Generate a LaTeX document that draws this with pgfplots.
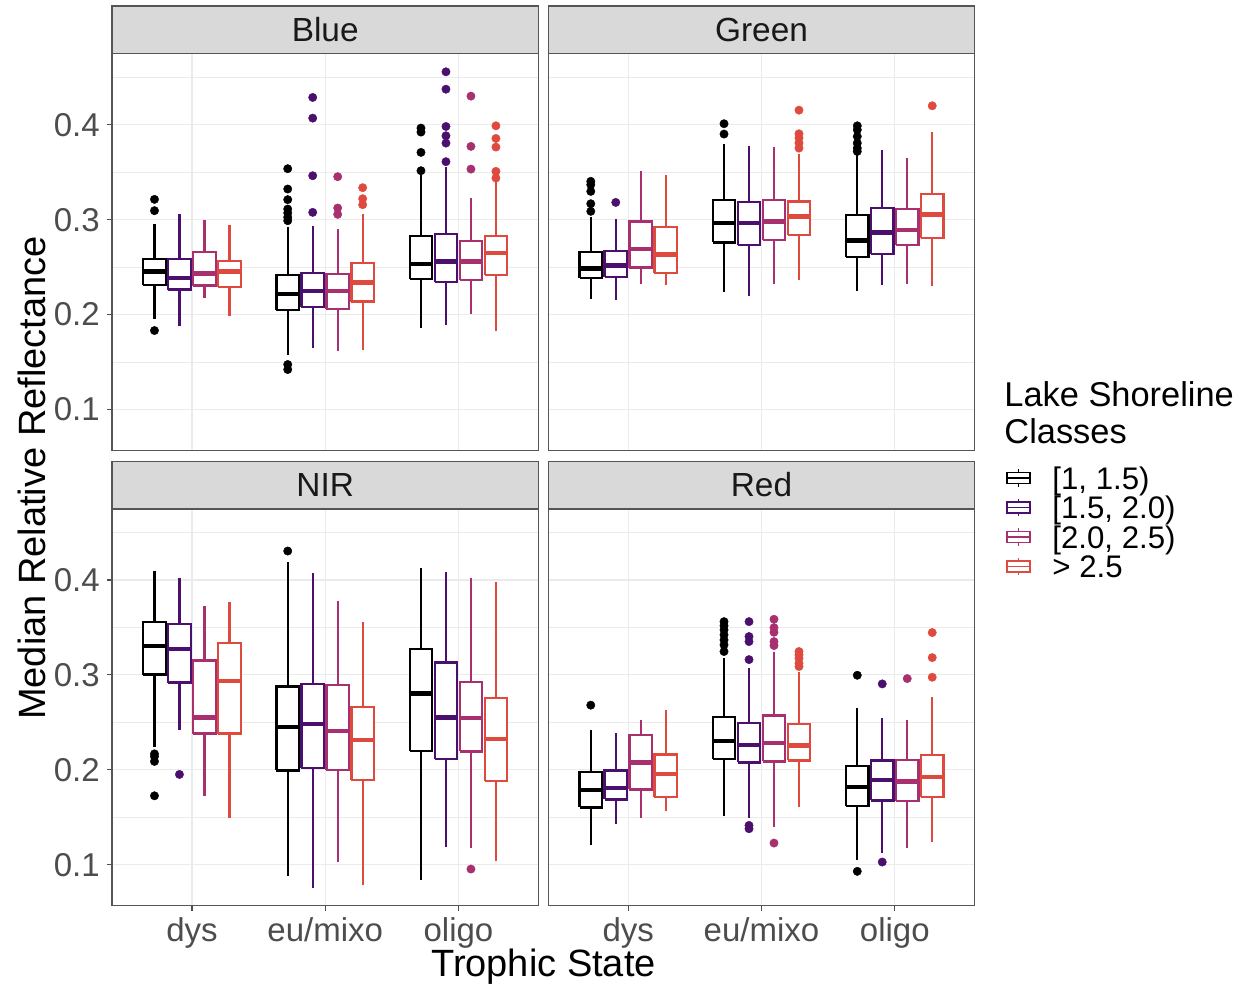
\documentclass[border=0pt]{standalone}
\usepackage{fontspec}
\setmainfont{Liberation Sans}
\usepackage{pgfplots}
\pgfplotsset{compat=1.18}

\definecolor{cA}{HTML}{000000}
\definecolor{cB}{HTML}{4B0F6E}
\definecolor{cC}{HTML}{A8306E}
\definecolor{cD}{HTML}{DE4A3D}
\definecolor{stripfill}{HTML}{D9D9D9}
\definecolor{bordergray}{HTML}{555555}
\definecolor{gridgray}{HTML}{EBEBEB}
\definecolor{ticklab}{HTML}{4D4D4D}

\newcommand{\ticksize}{\fontsize{16.5}{18}\selectfont}
\newcommand{\legsize}{\fontsize{15.6}{18}\selectfont}
\newcommand{\stripsize}{\fontsize{16.7}{18}\selectfont}
\newcommand{\titlesize}{\fontsize{19}{22}\selectfont}
\newcommand{\legtitlesize}{\fontsize{17.2}{20}\selectfont}

% position, colour, lower whisker, Q1, median, Q3, upper whisker, outliers (x ignored)
\newcommand{\bx}[8]{%
  \pgfmathsetmacro\xl{#1-0.0845}%
  \pgfmathsetmacro\xr{#1+0.0845}%
  \edef\doit{%
    \noexpand\addplot[color=#2, line width=1.15pt] coordinates {(#1,#3) (#1,#4)};
    \noexpand\addplot[color=#2, line width=1.15pt] coordinates {(#1,#6) (#1,#7)};
    \noexpand\addplot[color=#2, line width=1.15pt, fill=white, line join=miter]
      coordinates {(\xl,#4) (\xr,#4) (\xr,#6) (\xl,#6) (\xl,#4)};
    \noexpand\addplot[color=#2, line width=2.2pt] coordinates {(\xl,#5) (\xr,#5)};
  }\doit
  \if\relax\detokenize{#8}\relax\else
  \addplot[only marks, color=#2, mark=*, mark size=2.1pt,
    mark options={fill=#2, draw=#2, line width=0.2pt},
    x filter/.expression={#1}] coordinates {#8};
  \fi}

\pgfplotsset{
  every axis title shift=0pt,
  panel/.style={
    scale only axis, width=213.2pt, height=198.3pt,
    xmin=0.4, xmax=3.6, ymin=0.0568, ymax=0.4747,
    xtick={1,2,3}, ytick={0.1,0.2,0.3,0.4}, minor ytick={0.15,0.25,0.35,0.45},
    grid=both,
    major grid style={gridgray, line width=0.6pt},
    minor grid style={gridgray, line width=0.3pt},
    axis line style={bordergray, line width=0.6pt},
    tick align=outside, major tick length=2.6pt, minor tick length=0pt,
    tick style={ticklab, line width=0.6pt},
    tick pos=left,
    ticklabel style={font=\ticksize, text=ticklab},
    /pgf/number format/assume math mode=true,
    yticklabel style={/pgf/number format/.cd, fixed, precision=1},
    title style={at={(0.5,1)}, anchor=south, fill=stripfill, draw=bordergray,
      line width=0.6pt, minimum width=213.2pt, minimum height=23.6pt,
      inner sep=0pt, font=\stripsize, text=black!90},
  },
}

\begin{document}
\begin{tikzpicture}
\path (0,0) rectangle (623pt,494.5pt);

% ---------------- Blue ----------------
\begin{axis}[panel, at={(56pt,269.25pt)}, anchor=south west, title={Blue},
  xmajorticks=false, xticklabels={}]
\bx{0.71875}{cA}{0.1958}{0.2312}{0.2456}{0.2589}{0.2954}{(0,0.3214) (0,0.3095) (0,0.1832)}
\bx{0.90625}{cB}{0.1877}{0.2263}{0.2386}{0.2582}{0.3056}{}
\bx{1.09375}{cC}{0.2172}{0.2305}{0.2432}{0.2663}{0.2996}{}
\bx{1.28125}{cD}{0.1989}{0.2291}{0.2456}{0.2568}{0.2940}{}
\bx{1.71875}{cA}{0.1579}{0.2046}{0.2218}{0.2414}{0.2919}{(0,0.3537) (0,0.3323) (0,0.3211) (0,0.3112) (0,0.3070) (0,0.3025) (0,0.2989) (0,0.1474) (0,0.1421)}
\bx{1.90625}{cB}{0.1649}{0.2081}{0.2249}{0.2439}{0.2937}{(0,0.4288) (0,0.4070) (0,0.3463) (0,0.3077)}
\bx{2.09375}{cC}{0.1614}{0.2056}{0.2249}{0.2425}{0.2905}{(0,0.3453) (0,0.3123) (0,0.3056)}
\bx{2.28125}{cD}{0.1632}{0.2137}{0.2340}{0.2540}{0.3063}{(0,0.3337) (0,0.3221) (0,0.3158)}
\bx{2.71875}{cA}{0.1860}{0.2375}{0.2533}{0.2825}{0.3470}{(0,0.3965) (0,0.3923) (0,0.3709) (0,0.3516)}
\bx{2.90625}{cB}{0.1895}{0.2344}{0.2561}{0.2849}{0.3554}{(0,0.4558) (0,0.4375) (0,0.3982) (0,0.3884) (0,0.3807) (0,0.3611)}
\bx{3.09375}{cC}{0.2011}{0.2361}{0.2561}{0.2772}{0.3232}{(0,0.4302) (0,0.3772) (0,0.3533)}
\bx{3.28125}{cD}{0.1825}{0.2418}{0.2646}{0.2825}{0.3404}{(0,0.3989) (0,0.3856) (0,0.3765) (0,0.3509) (0,0.3439)}
\end{axis}

% ---------------- Green ----------------
\begin{axis}[panel, at={(274.15pt,269.25pt)}, anchor=south west, title={Green},
  xmajorticks=false, xticklabels={}, ymajorticks=false, yticklabels={}]
\bx{0.71875}{cA}{0.2165}{0.2382}{0.2484}{0.2660}{0.3025}{(0,0.3404) (0,0.3368) (0,0.3298) (0,0.3168) (0,0.3088)}
\bx{0.90625}{cB}{0.2158}{0.2396}{0.2519}{0.2670}{0.3007}{(0,0.3182)}
\bx{1.09375}{cC}{0.2319}{0.2495}{0.2691}{0.2982}{0.3509}{}
\bx{1.28125}{cD}{0.2312}{0.2439}{0.2632}{0.2926}{0.3474}{}
\bx{1.71875}{cA}{0.2239}{0.2761}{0.2965}{0.3211}{0.3800}{(0,0.4011) (0,0.3902)}
\bx{1.90625}{cB}{0.2200}{0.2733}{0.2968}{0.3189}{0.3772}{}
\bx{2.09375}{cC}{0.2319}{0.2789}{0.2982}{0.3211}{0.3761}{}
\bx{2.28125}{cD}{0.2368}{0.2842}{0.3035}{0.3193}{0.3695}{(0,0.4154) (0,0.3905) (0,0.3860) (0,0.3807) (0,0.3754)}
\bx{2.71875}{cA}{0.2246}{0.2607}{0.2779}{0.3046}{0.3702}{(0,0.3989) (0,0.3947) (0,0.3877) (0,0.3807) (0,0.3754) (0,0.3719)}
\bx{2.90625}{cB}{0.2309}{0.2642}{0.2863}{0.3126}{0.3737}{}
\bx{3.09375}{cC}{0.2323}{0.2733}{0.2891}{0.3116}{0.3649}{}
\bx{3.28125}{cD}{0.2305}{0.2804}{0.3056}{0.3274}{0.3919}{(0,0.4200)}
\end{axis}

% ---------------- NIR ----------------
\begin{axis}[panel, at={(56pt,41.65pt)}, anchor=south west, title={NIR},
  xticklabels={dys,eu/mixo,oligo}]
\bx{0.71875}{cA}{0.2239}{0.3004}{0.3302}{0.3554}{0.4098}{(0,0.2168) (0,0.2140) (0,0.2088) (0,0.1726)}
\bx{0.90625}{cB}{0.2421}{0.2919}{0.3270}{0.3537}{0.4025}{(0,0.1951)}
\bx{1.09375}{cC}{0.1719}{0.2382}{0.2551}{0.3151}{0.3726}{}
\bx{1.28125}{cD}{0.1491}{0.2382}{0.2937}{0.3337}{0.3768}{}
\bx{1.71875}{cA}{0.0884}{0.1993}{0.2453}{0.2877}{0.4193}{(0,0.4305)}
\bx{1.90625}{cB}{0.0754}{0.2018}{0.2484}{0.2905}{0.4077}{}
\bx{2.09375}{cC}{0.1025}{0.1996}{0.2407}{0.2895}{0.3779}{}
\bx{2.28125}{cD}{0.0782}{0.1891}{0.2312}{0.2660}{0.3554}{}
\bx{2.71875}{cA}{0.0835}{0.2200}{0.2804}{0.3270}{0.4130}{}
\bx{2.90625}{cB}{0.1186}{0.2116}{0.2551}{0.3130}{0.4081}{}
\bx{3.09375}{cC}{0.1175}{0.2193}{0.2544}{0.2926}{0.4018}{(0,0.0954)}
\bx{3.28125}{cD}{0.1035}{0.1881}{0.2323}{0.2758}{0.3975}{}
\end{axis}

% ---------------- Red ----------------
\begin{axis}[panel, at={(274.15pt,41.65pt)}, anchor=south west, title={Red},
  xticklabels={dys,eu/mixo,oligo}, ymajorticks=false, yticklabels={}]
\bx{0.71875}{cA}{0.1211}{0.1604}{0.1789}{0.1979}{0.2421}{(0,0.2681)}
\bx{0.90625}{cB}{0.1428}{0.1688}{0.1807}{0.1993}{0.2389}{}
\bx{1.09375}{cC}{0.1491}{0.1793}{0.2077}{0.2368}{0.2523}{}
\bx{1.28125}{cD}{0.1561}{0.1716}{0.1954}{0.2161}{0.2628}{}
\bx{1.71875}{cA}{0.1516}{0.2112}{0.2305}{0.2554}{0.3175}{(0,0.3561) (0,0.3519) (0,0.3474) (0,0.3421) (0,0.3368) (0,0.3316) (0,0.3246)}
\bx{1.90625}{cB}{0.1491}{0.2077}{0.2263}{0.2491}{0.3070}{(0,0.3561) (0,0.3404) (0,0.3351) (0,0.3161) (0,0.1414) (0,0.1379)}
\bx{2.09375}{cC}{0.1393}{0.2088}{0.2281}{0.2572}{0.3246}{(0,0.3586) (0,0.3498) (0,0.3449) (0,0.3351) (0,0.3309) (0,0.1228)}
\bx{2.28125}{cD}{0.1604}{0.2098}{0.2256}{0.2484}{0.3035}{(0,0.3246) (0,0.3211) (0,0.3175) (0,0.3123) (0,0.3088)}
\bx{2.71875}{cA}{0.1049}{0.1621}{0.1821}{0.2042}{0.2656}{(0,0.2996) (0,0.0930)}
\bx{2.90625}{cB}{0.1123}{0.1677}{0.1895}{0.2098}{0.2544}{(0,0.2905) (0,0.1028)}
\bx{3.09375}{cC}{0.1175}{0.1674}{0.1877}{0.2105}{0.2526}{(0,0.2961)}
\bx{3.28125}{cD}{0.1239}{0.1716}{0.1923}{0.2158}{0.2765}{(0,0.3446) (0,0.3182) (0,0.2975)}
\end{axis}

% axis titles
\node[rotate=90, anchor=base, font=\titlesize] at (22.5pt,255.5pt) {Median Relative Reflectance};
\node[anchor=base, font=\titlesize] at (271.75pt,6pt) {Trophic State};

% legend
\node[anchor=base west, font=\legtitlesize, inner sep=0pt] at (502pt,291pt) {Lake Shoreline};
\node[anchor=base west, font=\legtitlesize, inner sep=0pt] at (502pt,272.5pt) {Classes};
\foreach \c/\yc/\lab in {cA/255.5/{[1, 1.5)}, cB/240.75/{[1.5, 2.0)}, cC/226/{[2.0, 2.5)}, cD/211.25/{> 2.5}} {
  \draw[\c, line width=0.8pt] (509.25pt,\yc pt+4.4pt) -- (509.25pt,\yc pt-4.4pt);
  \draw[\c, line width=0.8pt, fill=white] (503.5pt,\yc pt-2.8pt) rectangle (515pt,\yc pt+2.8pt);
  \draw[\c, line width=0.8pt] (503.5pt,\yc pt) -- (515pt,\yc pt);
  \node[anchor=base west, font=\legsize, inner sep=0pt] at (526pt,\yc pt-5.6pt) {\lab};
}
\end{tikzpicture}
\end{document}
